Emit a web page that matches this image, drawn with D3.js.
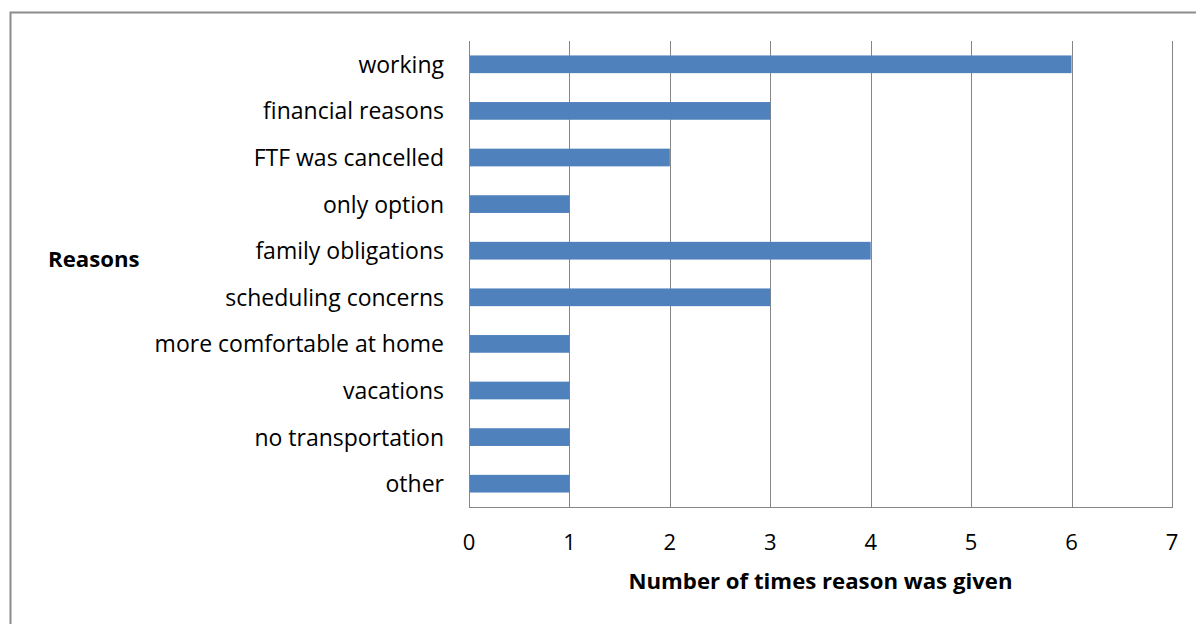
<!DOCTYPE html>
<html><head><meta charset="utf-8">
<script src="https://cdn.jsdelivr.net/npm/d3@7"></script>
<style>
body{margin:0;background:#fff;}
svg{display:block;}
text{font-family:"Open Sans","Liberation Sans",Arial,sans-serif;fill:#000;}
</style></head>
<body>
<svg id="chart" width="1196" height="624"></svg>
<script>
const categories = ["working","financial reasons","FTF was cancelled","only option","family obligations","scheduling concerns","more comfortable at home","vacations","no transportation","other"];
const values = [6,3,2,1,4,3,1,1,1,1];
const xTicks = [0,1,2,3,4,5,6,7];
const xTitle = "Number of times reason was given";
const yTitle = "Reasons";

const svg = d3.select("#chart");
const m = {left:469, right:1172, top:41, bottom:507};

// outer frame
svg.append("rect").attr("x",10.5).attr("y",12.5).attr("width",1300).attr("height",700)
  .attr("fill","none").attr("stroke","#8c8c8c").attr("stroke-width",2);

const x = d3.scaleLinear().domain([0,7]).range([m.left,m.right]);
const y = d3.scaleBand().domain(categories).range([m.top,m.bottom]).paddingInner(0.62).paddingOuter(0.31);

// gridlines
svg.append("g").selectAll("line").data(xTicks.filter(d=>d>0)).join("line")
  .attr("x1",d=>Math.round(x(d))+0.5).attr("x2",d=>Math.round(x(d))+0.5)
  .attr("y1",m.top).attr("y2",m.bottom)
  .attr("stroke","#868686").attr("stroke-width",1);

// bars
svg.append("g").selectAll("rect").data(values).join("rect")
  .attr("x",x(0)).attr("y",(d,i)=>y(categories[i]))
  .attr("width",d=>x(d)-x(0)).attr("height",y.bandwidth())
  .attr("fill","#4f81bd");

// axes lines
svg.append("line").attr("x1",m.left+0.5).attr("x2",m.left+0.5).attr("y1",m.top).attr("y2",m.bottom)
  .attr("stroke","#868686");
svg.append("line").attr("x1",m.left).attr("x2",m.right+1).attr("y1",m.bottom+0.5).attr("y2",m.bottom+0.5)
  .attr("stroke","#868686");

// x tick labels
svg.append("g").selectAll("text").data(xTicks).join("text")
  .attr("x",d=>x(d)).attr("y",550).attr("text-anchor","middle")
  .style("font-size","22px").text(d=>d);

// y tick labels
svg.append("g").selectAll("text").data(categories).join("text")
  .attr("x",444).attr("y",d=>y(d)+y.bandwidth()/2+8.5)
  .attr("text-anchor","end").style("font-size","23px").text(d=>d);

svg.append("text").attr("x",(m.left+m.right)/2).attr("y",589).attr("text-anchor","middle")
  .style("font-size","22.2px").style("font-weight","bold").text(xTitle);
svg.append("text").attr("x",48).attr("y",267)
  .style("font-size","22.2px").style("font-weight","bold").text(yTitle);
</script>
</body></html>
